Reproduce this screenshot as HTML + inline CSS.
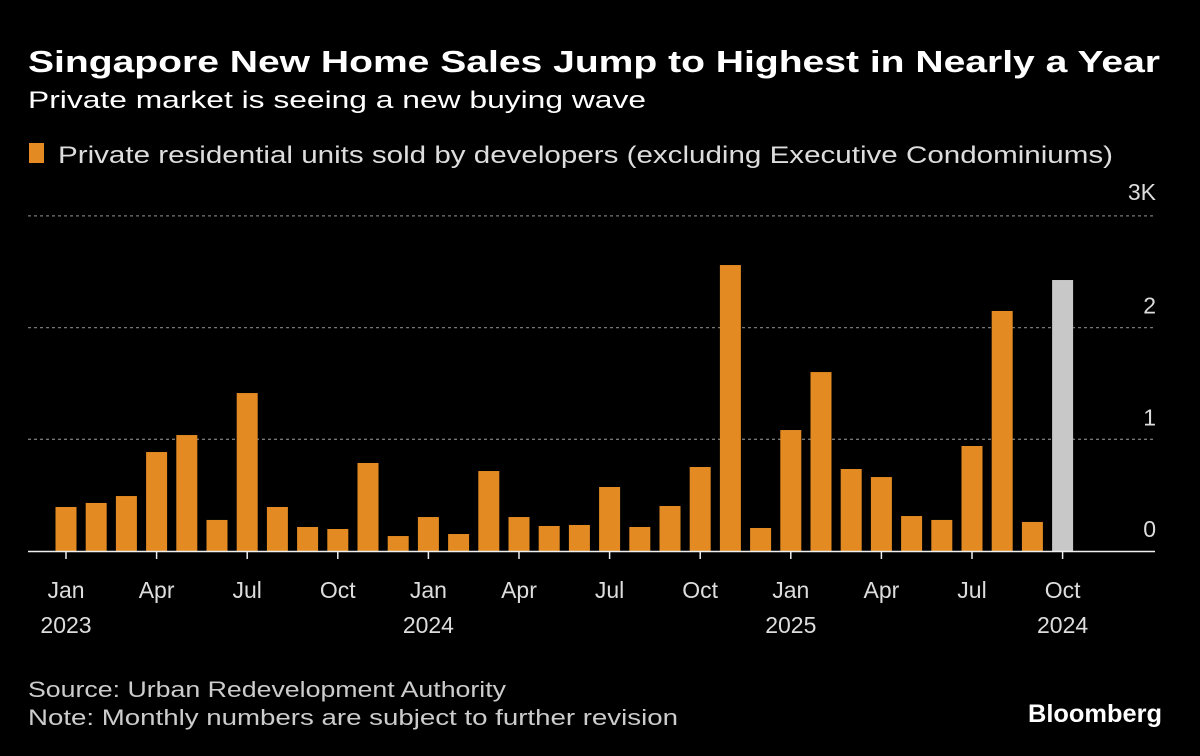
<!DOCTYPE html>
<html><head><meta charset="utf-8"><style>
html,body{margin:0;padding:0;background:#000;}
svg{display:block;font-family:"Liberation Sans",sans-serif;}
</style></head><body>
<svg id="chart" width="1200" height="756" viewBox="0 0 1200 756">
<rect width="1200" height="756" fill="#000"/>
<text x="28" y="72" fill="#fff" font-size="31" font-weight="bold" textLength="1132" lengthAdjust="spacingAndGlyphs">Singapore New Home Sales Jump to Highest in Nearly a Year</text>
<text x="28" y="108" fill="#fff" font-size="24" textLength="618" lengthAdjust="spacingAndGlyphs">Private market is seeing a new buying wave</text>
<rect x="29" y="143" width="15" height="20" fill="#e38b22"/>
<text x="58" y="163" fill="#ddd" font-size="24" textLength="1055" lengthAdjust="spacingAndGlyphs">Private residential units sold by developers (excluding Executive Condominiums)</text>
<g id="grid"></g><g id="bars"></g><g id="xlabels"></g>
<text x="28" y="697" fill="#ccc" font-size="22" textLength="478" lengthAdjust="spacingAndGlyphs">Source: Urban Redevelopment Authority</text>
<text x="28" y="725" fill="#ccc" font-size="22" textLength="650" lengthAdjust="spacingAndGlyphs">Note: Monthly numbers are subject to further revision</text>
<text x="1162" y="722" fill="#fff" font-size="25" font-weight="bold" text-anchor="end" textLength="134" lengthAdjust="spacingAndGlyphs">Bloomberg</text>
</svg>
<script>
const values=[394,430,492,886,1038,278,1414,394,215,197,788,134,304,152,716,304,224,233,573,215,403,752,2560,206,1083,1602,734,662,313,278,940,2149,260,2426];
const yTicks=[0,1000,2000,3000];
const yTickLabels=["0","1","2","3K"];
const xTickIdx=[0,3,6,9,12,15,18,21,24,27,30,33];
const xTickLabels=["Jan","Apr","Jul","Oct","Jan","Apr","Jul","Oct","Jan","Apr","Jul","Oct"];
const yearIdx=[0,12,24,33];
const yearLabels=["2023","2024","2025","2024"];
const NS="http://www.w3.org/2000/svg";
const y0=551,pxPer=111.7/1000,x0=66,step=30.2,bw=21;
const ys=v=>y0-v*pxPer, xs=i=>x0+i*step;
function mk(t,a,p){const e=document.createElementNS(NS,t);for(const k in a)e.setAttribute(k,a[k]);p.appendChild(e);return e;}
const grid=document.getElementById('grid');
yTicks.forEach((v,i)=>{
 if(v>0){const l=mk('line',{x1:28,x2:1155,y1:ys(v),y2:ys(v),stroke:'#777','stroke-dasharray':'3,3','stroke-width':1.3},grid);
 
 }
 const t=mk('text',{x:1156,y:ys(v)-(v==3000?16:14),fill:'#ddd','font-size':23,'text-anchor':'end'},grid);t.textContent=yTickLabels[i];
 
 
});
const bars=document.getElementById('bars');
values.forEach((v,i)=>{
 const r=mk('rect',{x:xs(i)-bw/2,y:ys(v),width:bw,height:y0-ys(v),fill:i==values.length-1?'#c8c8c8':'#e38b22'},bars);
 
 
});
const ax=mk('line',{x1:28,x2:1155,y1:y0+0.5,y2:y0+0.5,stroke:'#eee','stroke-width':1.5},bars);


const xl=document.getElementById('xlabels');
xTickIdx.forEach((idx,i)=>{
 const tk=mk('line',{x1:xs(idx),x2:xs(idx),y1:y0,y2:y0+8,stroke:'#eee','stroke-width':1.5},xl);
 
 
 const t=mk('text',{x:xs(idx),y:598,fill:'#ddd','font-size':23,'text-anchor':'middle'},xl);t.textContent=xTickLabels[i];
 
 
});
yearIdx.forEach((idx,i)=>{
 const t=mk('text',{x:xs(idx),y:633,fill:'#ddd','font-size':23,'text-anchor':'middle'},xl);t.textContent=yearLabels[i];
 
 
});
</script>
</body></html>
